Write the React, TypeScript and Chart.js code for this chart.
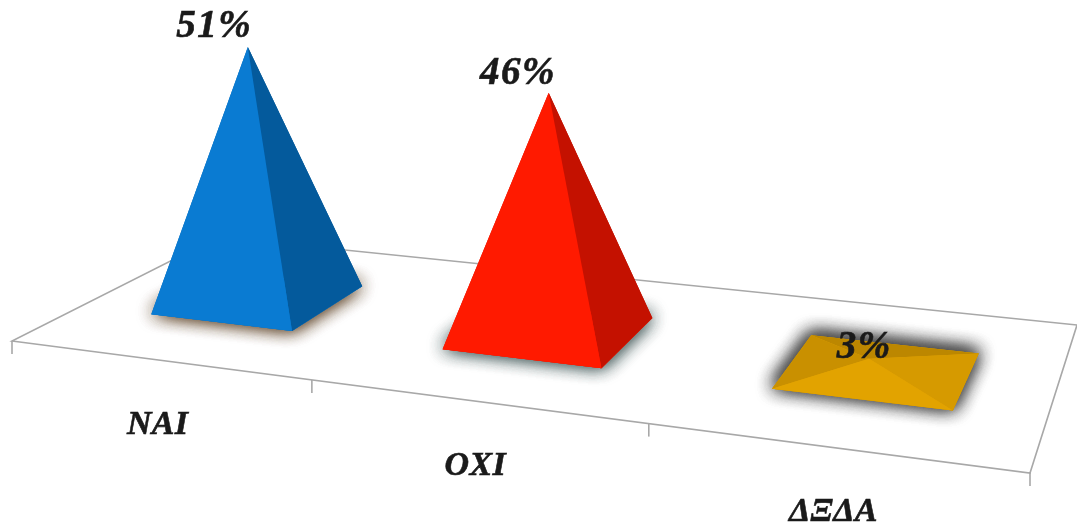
import React, { useEffect, useRef } from "react";
import { Chart, registerables } from "chart.js";

Chart.register(...registerables);

const categories = ["NAI", "OXI", "ΔΞΔΑ"];
const values = [51, 46, 3];
const frontColors = ["#0A7BD2", "#FF1A00", "#E2A300"];
const rightColors = ["#045A9C", "#C41100", "#D69A00"];
const leftColors = ["#0A6CB8", "#D81500", "#C99000"];
const backColors = ["#045A9C", "#C41100", "#BC8700"];
const shadowColors = ["rgba(110,85,60,0.95)", "rgba(85,105,105,0.95)", "rgba(75,75,75,0.95)"];

const FL = [12, 341];
const FR = [1030, 473];
const BR = [1077, 325];
const BL = [218, 237];

function makeFloor() {
  const [x0, y0] = FL, [x1, y1] = FR, [x2, y2] = BR, [x3, y3] = BL;
  const sx = x0 - x1 + x2 - x3, sy = y0 - y1 + y2 - y3;
  const dx1 = x1 - x2, dy1 = y1 - y2, dx2 = x3 - x2, dy2 = y3 - y2;
  const den = dx1 * dy2 - dx2 * dy1;
  const g = (sx * dy2 - dx2 * sy) / den;
  const h = (dx1 * sy - sx * dy1) / den;
  const a = x1 - x0 + g * x1, b = x3 - x0 + h * x3;
  const d = y1 - y0 + g * y1, e = y3 - y0 + h * y3;
  return (u: number, v: number): [number, number] => {
    const w = g * u + h * v + 1;
    return [(a * u + b * v + x0) / w, (d * u + e * v + y0) / w];
  };
}

const pyramidPlugin = {
  id: "pyramids",
  afterDatasetsDraw(chart: any) {
    const { ctx, scales, width } = chart;
    const xs = scales.x, ys = scales.y;
    const floor = makeFloor();
    const warp = (u: number) => u + 0.02 * u * (1 - u);
    const poly = (pts: number[][], fill: string) => {
      ctx.beginPath();
      pts.forEach((p, i) => (i ? ctx.lineTo(p[0], p[1]) : ctx.moveTo(p[0], p[1])));
      ctx.closePath();
      ctx.fillStyle = fill;
      ctx.fill();
    };
    const label = (text: string, x: number, y: number, size: number, spacing: string) => {
      ctx.fillStyle = "#1a1a1a";
      ctx.strokeStyle = "#1a1a1a";
      ctx.lineWidth = 0.6;
      ctx.textAlign = "center";
      ctx.textBaseline = "middle";
      ctx.letterSpacing = spacing;
      ctx.font = `italic bold ${size}px 'Liberation Serif'`;
      ctx.fillText(text, x, y);
      ctx.strokeText(text, x, y);
    };
    ctx.save();

    // floor
    ctx.strokeStyle = "#A8A8A8";
    ctx.lineWidth = 1.6;
    ctx.beginPath();
    ctx.moveTo(FL[0], FL[1]);
    ctx.lineTo(FR[0], FR[1]);
    ctx.lineTo(BR[0], BR[1]);
    ctx.lineTo(BL[0], BL[1]);
    ctx.closePath();
    ctx.stroke();
    const n = categories.length;
    for (let i = 0; i <= n; i++) {
      const p = floor(warp(i / n), 0);
      ctx.beginPath();
      ctx.moveTo(p[0], p[1]);
      ctx.lineTo(p[0], p[1] + 13);
      ctx.stroke();
    }

    const du = 0.083, dv = 0.2, vc = 0.5, shift = 0.002;
    values.forEach((val, i) => {
      const uc0 = xs.getPixelForValue(i) / width;
      const uc = uc0 + shift;
      const L = floor(uc - du, vc - dv);
      const F = floor(uc + du, vc - dv);
      const R = floor(uc + du, vc + dv);
      const B = floor(uc - du, vc + dv);
      const C = floor(uc, vc);
      const h0 = (ys.getPixelForValue(0) - ys.getPixelForValue(val)) * (1 + 0.00019 * (C[0] - 256));
      const flat = Math.max(0, 1 - h0 / 250);
      const h = h0 - 5 * flat;
      const A = [C[0] + h * (-0.045 + 0.00014 * (C[0] - 256)) - 10 * flat, C[1] - h];

      for (let k = 0; k < 3; k++) {
        ctx.save();
        ctx.shadowColor = shadowColors[i];
        ctx.shadowBlur = 18;
        ctx.shadowOffsetY = -2;
        poly([L, F, R, B], frontColors[i]);
        ctx.restore();
      }

      poly([B, R, A], backColors[i]);
      poly([L, B, A], leftColors[i]);
      poly([R, F, A], rightColors[i]);
      poly([L, F, A], frontColors[i]);

      label(`${val}%`, A[0] - 3 - 0.6 * val, A[1] - (10 + 0.2 * val), 39, "1.5px");
      const lab = floor(warp(uc0), 0);
      label(xs.getLabelForValue(i), lab[0], lab[1] + 65, 34, "0.3px");
    });
    ctx.restore();
  },
};

export default function App() {
  const ref = useRef<HTMLCanvasElement>(null);
  useEffect(() => {
    const chart = new Chart(ref.current!, {
      type: "bar",
      data: {
        labels: categories,
        datasets: [{ data: values, backgroundColor: "rgba(0,0,0,0)" }],
      },
      options: {
        animation: false,
        responsive: false,
        devicePixelRatio: 1,
        plugins: { legend: { display: false }, tooltip: { enabled: false } },
        scales: {
          x: { display: false },
          y: { display: false, min: 0, max: 106 },
        },
      },
      plugins: [pyramidPlugin],
    } as any);
    return () => chart.destroy();
  }, []);
  return (
    <div style={{ position: "absolute", left: 0, top: 0, width: 1077, height: 525, overflow: "hidden", background: "#fff" }}>
      <canvas ref={ref} width={1077} height={525} style={{ display: "block", filter: "blur(0.5px)" }} />
    </div>
  );
}
